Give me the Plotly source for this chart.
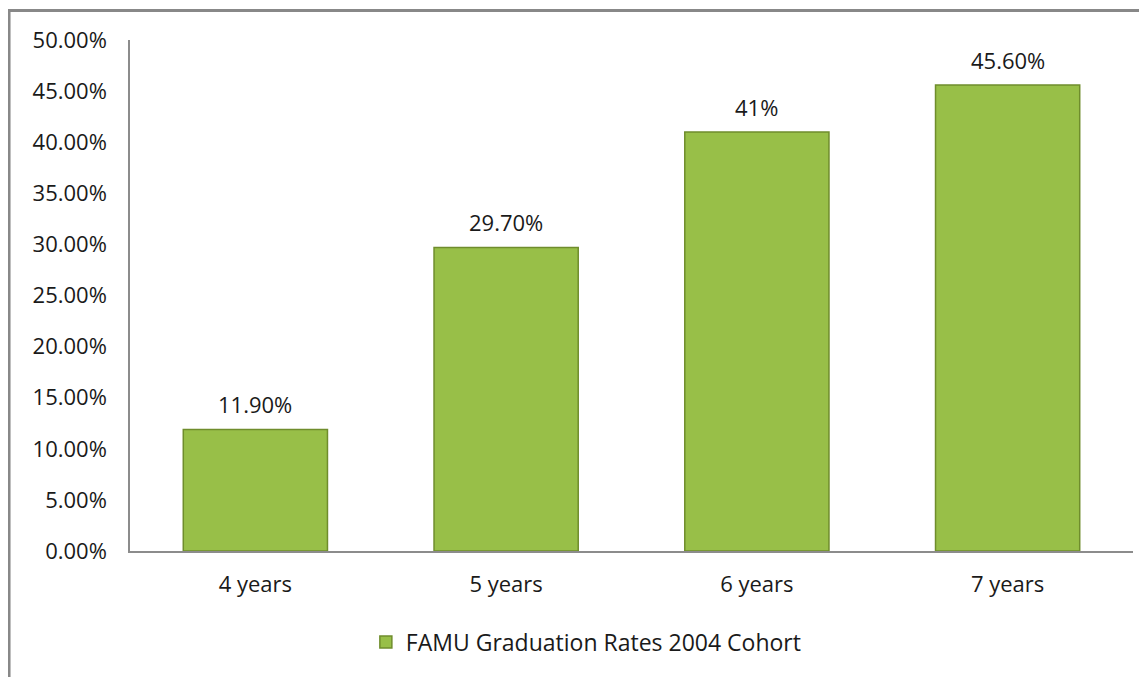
import plotly.graph_objects as go

categories = ["4 years", "5 years", "6 years", "7 years"]
rates = [0.119, 0.297, 0.41, 0.456]
labels = ["11.90%", "29.70%", "41%", "45.60%"]
y_ticks = [0.0, 0.05, 0.10, 0.15, 0.20, 0.25, 0.30, 0.35, 0.40, 0.45, 0.50]
y_tick_text = ["0.00%", "5.00%", "10.00%", "15.00%", "20.00%", "25.00%",
               "30.00%", "35.00%", "40.00%", "45.00%", "50.00%"]
series_name = "FAMU Graduation Rates 2004 Cohort"

FONT = "'Open Sans', 'Noto Sans', sans-serif"
FS = 22

fig = go.Figure()
fig.add_trace(go.Bar(
    x=categories, y=rates, name=series_name,
    width=0.575,
    marker=dict(color="#98bf48", line=dict(color="#6f8d2c", width=1.5)),
    showlegend=True,
))

for c, v, t in zip(categories, rates, labels):
    fig.add_annotation(x=c, y=v, text=t, showarrow=False, yanchor="bottom",
                       yshift=8, font=dict(family=FONT, size=FS, color="#1a1a1a"))

fig.update_layout(
    width=1139, height=669,
    margin=dict(l=122, r=14, t=32, b=126),
    paper_bgcolor="white", plot_bgcolor="white",
    font=dict(family=FONT, size=FS, color="#1a1a1a"),
    bargap=0.425,
    xaxis=dict(showline=True, linecolor="#8c8c8c", linewidth=1.5, showgrid=False,
               ticks="", ticklabelstandoff=13, range=[-0.5, 3.5]),
    yaxis=dict(showline=True, linecolor="#8c8c8c", linewidth=1.5, showgrid=False,
               range=[0, 0.5], tickvals=y_ticks, ticktext=y_tick_text, ticks="",
               ticklabelstandoff=17, zeroline=False),
    legend=dict(orientation="h", x=0.455, xanchor="center", y=-0.178, yanchor="middle",
                font=dict(family=FONT, size=23, color="#1a1a1a"), itemwidth=30),
    shapes=[dict(type="rect", xref="paper", yref="paper",
                 x0=-0.1206, x1=1.2, y0=-0.5, y1=1.0577,
                 line=dict(color="#888888", width=3), layer="above")],
)

fig.write_html("out.html")
